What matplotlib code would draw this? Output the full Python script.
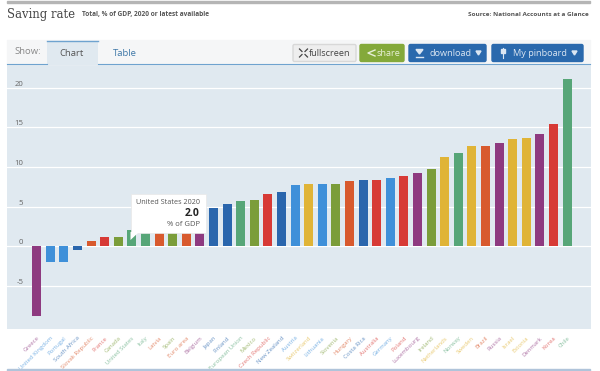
import matplotlib
matplotlib.use('Agg')
import matplotlib.pyplot as plt
from matplotlib.patches import Rectangle, FancyBboxPatch, Polygon

countries = ['Greece', 'United Kingdom', 'Portugal', 'South Africa', 'Slovak Republic', 'France', 'Canada',
             'United States', 'Italy', 'Latvia', 'Spain', 'Euro area', 'Belgium', 'Japan', 'Finland',
             'European Union', 'Mexico', 'Czech Republic', 'New Zealand', 'Austria', 'Switzerland', 'Lithuania',
             'Slovenia', 'Hungary', 'Costa Rica', 'Australia', 'Germany', 'Poland', 'Luxembourg', 'Ireland',
             'Netherlands', 'Norway', 'Sweden', 'Brazil', 'Russia', 'Israel', 'Estonia', 'Denmark', 'Korea', 'Chile']
values = [-8.8, -2.0, -2.0, -0.5, 0.7, 1.1, 1.1, 2.0, 2.2, 2.4, 2.9, 3.3, 4.0, 4.8, 5.3, 5.7, 5.8, 6.6, 6.9, 7.7,
          7.8, 7.8, 7.9, 8.2, 8.4, 8.4, 8.6, 8.9, 9.2, 9.8, 11.3, 11.7, 12.6, 12.6, 13.0, 13.5, 13.7, 14.1, 15.4, 21.1]
color_keys = ['p', 'l', 'l', 'd', 'o', 'r', 'v', 'g', 'g', 'o', 'v', 'o', 'p', 'd', 'd', 'g', 'v', 'r', 'd', 'l',
              'y', 'l', 'v', 'o', 'd', 'r', 'l', 'r', 'p', 'v', 'y', 'g', 'y', 'o', 'p', 'y', 'y', 'p', 'r', 'g']
y_ticks = [-5, 0, 5, 10, 15, 20]

palette = {'p': '#8e3a80', 'l': '#3f90d9', 'd': '#2a66ad', 'o': '#d85a2e',
           'r': '#d73a36', 'v': '#7b9d3a', 'g': '#57a678', 'y': '#e0b437'}
colors = [palette[k] for k in color_keys]

W, H = 600, 371
plt.rcParams['font.family'] = ['Open Sans', 'DejaVu Sans']
fig = plt.figure(figsize=(W / 100, H / 100), dpi=100, facecolor='white')

# chart panel
ax = fig.add_axes([7.3 / W, 1 - 329.3 / H, 583.4 / W, 265.3 / H], facecolor='#e0e9f0')
ax.bar(range(len(values)), values, width=0.66, color=colors, zorder=3)
ax.set_xlim(-2.16, 40.74)
ax.set_ylim(-10.5, 23.0)
ax.set_yticks(y_ticks)
ax.set_yticklabels([str(v) for v in y_ticks], va='bottom')
ax.tick_params(axis='y', length=0, pad=-11.5, labelsize=5.6, labelcolor='#666666')
ax.grid(axis='y', color='white', linewidth=0.9, zorder=1)
ax.set_xticks(range(len(values)))
ax.set_xticklabels(countries, rotation=45, ha='right', rotation_mode='anchor', fontsize=4.3)
ax.tick_params(axis='x', length=0, pad=4.5)
for lab, c in zip(ax.get_xticklabels(), colors):
    lab.set_color(c)
    lab.set_alpha(0.7)
for s in ax.spines.values():
    s.set_visible(False)

# page chrome, pixel coords
ov = fig.add_axes([0, 0, 1, 1], facecolor='none')
ov.set_xlim(0, W)
ov.set_ylim(H, 0)
ov.axis('off')

ov.add_patch(Rectangle((7, 1), 583, 2, color='#b5b5b5'))
ov.add_patch(Rectangle((7, 369), 583, 2, color='#b0c4da'))
ov.text(7, 14.5, 'Saving rate', family='DejaVu Serif', fontsize=8.4, color='#444444', va='center')
ov.text(82, 14.5, 'Total, % of GDP, 2020 or latest available', fontsize=4.7, fontweight='bold', color='#555555', va='center')
ov.text(589, 14.5, 'Source: National Accounts at a Glance', fontsize=4.6, fontweight='bold', color='#555555',
        va='center', ha='right')

# tabs
ov.add_patch(Rectangle((7, 40), 583, 24, color='#f5f6f7', zorder=1))
ov.add_patch(Rectangle((47, 40.5), 51, 24, facecolor='#e0e9f0', edgecolor='none', zorder=2))
ov.plot([47, 98], [40.5, 40.5], color='#6fa3cf', lw=1, zorder=3)
ov.plot([98, 590], [64, 64], color='#6fa3cf', lw=0.8, zorder=3)
ov.plot([7, 47], [64, 64], color='#6fa3cf', lw=0.8, zorder=3)
ov.text(27.5, 51, 'Show:', fontsize=6.8, color='#888888', ha='center', va='center', zorder=4)
ov.text(72, 53, 'Chart', fontsize=6.8, color='#555555', ha='center', va='center', zorder=4)
ov.text(125, 53, 'Table', fontsize=6.8, color='#3f78a8', ha='center', va='center', zorder=4)

# buttons
buttons = [(292, 65, '#eeeeee', '#d8d8d8', 'fullscreen', 329.5, '#444444'),
           (359, 46, '#84a93a', '#84a93a', 'share', 388, '#e8f0d8'),
           (408, 79, '#2a69ad', '#2a69ad', 'download', 450.5, '#dbe6f2'),
           (491, 93, '#2a69ad', '#2a69ad', 'My pinboard', 539.5, '#dbe6f2')]
for x, w, fc, ec, txt, tx, tc in buttons:
    ov.add_patch(FancyBboxPatch((x + 1, 44.5), w - 2, 17, boxstyle='round,pad=0,rounding_size=1.5', facecolor=fc,
                                edgecolor=ec, lw=1, zorder=4))
    ov.text(tx, 53, txt, fontsize=6.6, color=tc, ha='center', va='center', zorder=5)

# button icons
for dx, dy in [(-1, -1), (1, -1), (-1, 1), (1, 1)]:
    ov.plot([303.5 + dx * 1.5, 303.5 + dx * 4], [53 + dy * 1.5, 53 + dy * 4], color='#444444', lw=0.9, zorder=5)
ov.plot([375, 368, 375], [50, 53, 56], color='#e8f0d8', lw=1, zorder=5)
ov.add_patch(Polygon([[416, 49.5], [423, 49.5], [419.5, 54]], color='#dbe6f2', zorder=5))
ov.plot([416, 423], [56.5, 56.5], color='#dbe6f2', lw=1, zorder=5)
ov.add_patch(Polygon([[476, 51], [481, 51], [478.5, 55]], color='#dbe6f2', zorder=5))
ov.plot([502.5, 502.5], [48, 58], color='#dbe6f2', lw=0.8, zorder=5)
ov.add_patch(Rectangle((500.5, 49), 4, 4, color='#dbe6f2', zorder=5))
ov.add_patch(Polygon([[572, 51], [577, 51], [574.5, 55]], color='#dbe6f2', zorder=5))

# tooltip on United States
ov.add_patch(Rectangle((131, 194), 75, 39, facecolor='white', edgecolor='#e8e8e8', lw=0.5, zorder=6))
ov.add_patch(Polygon([[130.5, 232], [139, 232], [130.5, 240]], facecolor='white', edgecolor='none', zorder=6))
ov.text(200, 202.5, 'United States 2020', fontsize=5.2, color='#555555', ha='right', va='center', zorder=7)
ov.text(200, 213.7, '2.0', fontsize=7.5, fontweight='bold', color='#222222', ha='right', va='center', zorder=7)
ov.text(200, 225, '% of GDP', fontsize=5.5, color='#555555', ha='right', va='center', zorder=7)

fig.savefig('out.png', dpi=100)
